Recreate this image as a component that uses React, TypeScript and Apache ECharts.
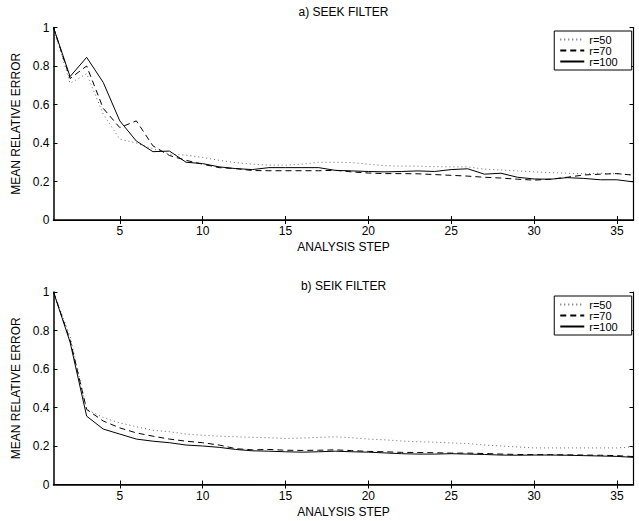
import React, { useEffect, useRef } from "react";
import * as echarts from "echarts";

const steps = Array.from({ length: 36 }, (_, i) => i + 1);
const xTicks = [5, 10, 15, 20, 25, 30, 35];
const yTicks = [0, 0.2, 0.4, 0.6, 0.8, 1];
const seriesNames = ["r=50", "r=70", "r=100"];
const titles = ["a) SEEK FILTER", "b) SEIK FILTER"];

const seekR50 = [1.0, 0.71, 0.76, 0.55, 0.42, 0.4, 0.37, 0.342, 0.337, 0.325, 0.31, 0.298, 0.29, 0.285, 0.285, 0.29, 0.3, 0.3, 0.298, 0.29, 0.282, 0.28, 0.28, 0.277, 0.276, 0.276, 0.264, 0.26, 0.255, 0.25, 0.246, 0.243, 0.24, 0.243, 0.24, 0.234];
const seekR70 = [1.0, 0.735, 0.8, 0.58, 0.48, 0.515, 0.385, 0.335, 0.31, 0.29, 0.272, 0.267, 0.257, 0.256, 0.256, 0.256, 0.256, 0.258, 0.25, 0.244, 0.241, 0.241, 0.24, 0.236, 0.232, 0.228, 0.222, 0.218, 0.212, 0.207, 0.212, 0.222, 0.234, 0.238, 0.241, 0.233];
const seekR100 = [1.0, 0.745, 0.845, 0.715, 0.515, 0.41, 0.355, 0.358, 0.3, 0.293, 0.276, 0.267, 0.262, 0.272, 0.272, 0.272, 0.272, 0.258, 0.255, 0.252, 0.25, 0.252, 0.255, 0.252, 0.262, 0.266, 0.238, 0.243, 0.222, 0.213, 0.212, 0.22, 0.216, 0.209, 0.209, 0.198];

const seikR50 = [1.0, 0.77, 0.39, 0.348, 0.32, 0.3, 0.282, 0.274, 0.262, 0.256, 0.251, 0.248, 0.245, 0.243, 0.239, 0.241, 0.245, 0.248, 0.243, 0.236, 0.232, 0.226, 0.222, 0.22, 0.216, 0.213, 0.205, 0.2, 0.195, 0.19, 0.19, 0.19, 0.19, 0.19, 0.19, 0.196];
const seikR70 = [1.0, 0.75, 0.39, 0.33, 0.294, 0.268, 0.251, 0.236, 0.225, 0.217, 0.205, 0.186, 0.18, 0.182, 0.178, 0.177, 0.178, 0.18, 0.176, 0.172, 0.17, 0.167, 0.166, 0.165, 0.163, 0.163, 0.161, 0.158, 0.156, 0.155, 0.155, 0.154, 0.153, 0.152, 0.15, 0.145];
const seikR100 = [1.0, 0.74, 0.355, 0.288, 0.262, 0.236, 0.225, 0.217, 0.205, 0.2, 0.193, 0.182, 0.175, 0.173, 0.17, 0.168, 0.17, 0.173, 0.17, 0.168, 0.164, 0.16, 0.158, 0.158, 0.16, 0.158, 0.156, 0.153, 0.152, 0.153, 0.153, 0.152, 0.15, 0.148, 0.146, 0.141];

const FONT = "'Liberation Sans', Arial, Helvetica, sans-serif";

export default function App() {
  const ref = useRef<HTMLDivElement>(null);
  useEffect(() => {
    document.body.style.margin = "0";
    const chart = echarts.init(ref.current!, null, { renderer: "svg" });
    const grids = [
      { left: 53.5, right: 5.5, top: 27.5, height: 192.5 },
      { left: 53.5, right: 5.5, top: 292, height: 192.5 },
    ];
    const lineStyles = [
      { color: "#666", width: 1, type: [1, 3] as any },
      { color: "#000", width: 1, type: [6, 4] as any },
      { color: "#000", width: 1, type: "solid" as any },
    ];
    const xAxes: any[] = [];
    const yAxes: any[] = [];
    grids.forEach((_, g) => {
      xAxes.push({
        type: "value",
        gridIndex: g,
        min: 1,
        max: 36,
        position: "bottom",
        name: "ANALYSIS STEP",
        nameLocation: "middle",
        nameGap: 21,
        nameTextStyle: { fontFamily: FONT, fontSize: 12, color: "#000" },
        axisLine: { show: true, lineStyle: { color: "#000", width: 1.5 } },
        axisTick: { show: true, inside: true, length: 4, customValues: xTicks, lineStyle: { color: "#000" } },
        axisLabel: { show: true, customValues: xTicks, margin: 5, fontFamily: FONT, fontSize: 12, color: "#000" },
        splitLine: { show: false },
      });
      xAxes.push({
        type: "value",
        gridIndex: g,
        min: 1,
        max: 36,
        position: "top",
        axisLine: { show: true, lineStyle: { color: "#000", width: 1.2 } },
        axisTick: { show: true, inside: true, length: 4, customValues: xTicks, lineStyle: { color: "#000" } },
        axisLabel: { show: false },
        splitLine: { show: false },
      });
      yAxes.push({
        type: "value",
        gridIndex: g,
        min: 0,
        max: 1,
        interval: 0.2,
        position: "left",
        name: "MEAN RELATIVE ERROR",
        nameLocation: "middle",
        nameGap: 28,
        nameRotate: 90,
        nameTextStyle: { fontFamily: FONT, fontSize: 12, color: "#000" },
        axisLine: { show: true, lineStyle: { color: "#000", width: 1.5 } },
        axisTick: { show: true, inside: true, length: 4, lineStyle: { color: "#000" } },
        axisLabel: {
          show: true,
          margin: 4,
          fontFamily: FONT,
          fontSize: 12,
          color: "#000",
          formatter: (v: number) => (yTicks.includes(Number(v.toFixed(1))) ? String(Number(v.toFixed(1))) : ""),
        },
        splitLine: { show: false },
      });
      yAxes.push({
        type: "value",
        gridIndex: g,
        min: 0,
        max: 1,
        interval: 0.2,
        position: "right",
        axisLine: { show: true, lineStyle: { color: "#000", width: 1.2 } },
        axisTick: { show: true, inside: true, length: 4, lineStyle: { color: "#000" } },
        axisLabel: { show: false },
        splitLine: { show: false },
      });
    });
    const panelData = [
      [seekR50, seekR70, seekR100],
      [seikR50, seikR70, seikR100],
    ];
    const series: any[] = [];
    panelData.forEach((set, g) => {
      set.forEach((vals, k) => {
        series.push({
          type: "line",
          name: seriesNames[k],
          xAxisIndex: g * 2,
          yAxisIndex: g * 2,
          data: steps.map((s, i) => [s, vals[i]]),
          symbol: "none",
          lineStyle: lineStyles[k],
          itemStyle: { color: lineStyles[k].color },
          z: 3 + k,
        });
      });
    });
    const legendTops = [31, 296];
    chart.setOption({
      animation: false,
      backgroundColor: "#fff",
      title: titles.map((t, g) => ({
        text: t,
        left: 343.5,
        textAlign: "center",
        top: g === 0 ? 6 : 279.5,
        padding: 0,
        textStyle: { fontFamily: FONT, fontSize: 12, fontWeight: "normal", color: "#000" },
      })),
      grid: grids,
      xAxis: xAxes,
      yAxis: yAxes,
      legend: legendTops.map((top) => ({
        data: seriesNames,
        orient: "vertical",
        right: 7.3,
        top,
        itemWidth: 24,
        itemHeight: 8,
        itemGap: 0,
        padding: [3, 14, 3, 5],
        borderColor: "#000",
        borderWidth: 1,
        backgroundColor: "#fff",
        selectedMode: false,
        itemStyle: { opacity: 0 },
        textStyle: { fontFamily: FONT, fontSize: 11, color: "#000" },
      })),
      series,
    });
    return () => chart.dispose();
  }, []);
  return <div ref={ref} style={{ width: 639, height: 521 }} />;
}
